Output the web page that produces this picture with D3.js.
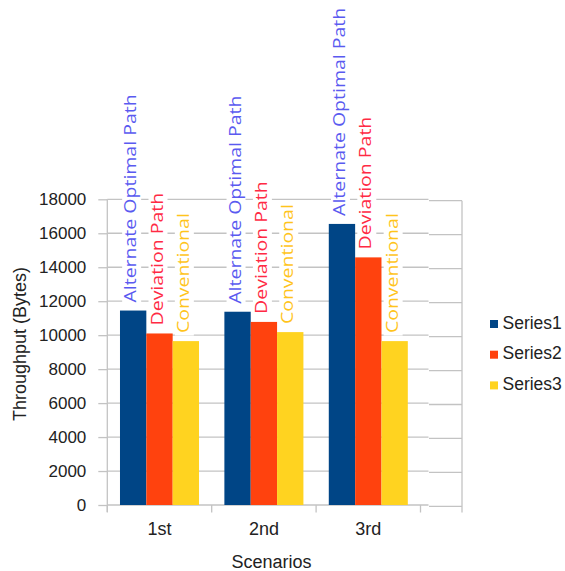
<!DOCTYPE html>
<html>
<head>
<meta charset="utf-8">
<script src="https://cdn.jsdelivr.net/npm/d3@7"></script>
<style>
  html, body { margin: 0; padding: 0; background: #fff; }
  svg { display: block; }
</style>
</head>
<body>
<svg id="chart" width="565" height="571"></svg>
<script>
// Throughput per scenario for the three routing strategies
const scenarios = ["1st", "2nd", "3rd"];
const seriesNames = ["Series1", "Series2", "Series3"];
const pathLabels = ["Alternate Optimal Path", "Deviation Path", "Conventional"];
const series1 = [11450, 11380, 16550];
const series2 = [10100, 10780, 14580];
const series3 = [9650, 10180, 9650];
const yTicks = [0, 2000, 4000, 6000, 8000, 10000, 12000, 14000, 16000, 18000];

const barColors = ["#004586", "#ff420e", "#ffd320"];
const labelColors = ["#5a5af0", "#ff2a44", "#ffc41c"];
const gridColor = "#c3c3c3";
const textColor = "#222";
const axisFont = "'Liberation Sans', Arial, sans-serif";
const labelFont = "'Open Sans', 'Noto Sans', sans-serif";

const values = [series1, series2, series3];

const svg = d3.select("#chart");

const plotLeft = 107.3, plotRight = 420.5, frameRight = 462;
const plotTop = 199.3, plotBottom = 505;

const x = d3.scaleBand().domain(scenarios).range([plotLeft, plotRight])
  .paddingInner(0.243).paddingOuter(0.1215);
const xs = d3.scaleBand().domain(d3.range(seriesNames.length)).range([0, x.bandwidth()]);
const y = d3.scaleLinear().domain([0, 18000]).range([plotBottom, plotTop]);

// horizontal grid (the right pane sits a hair lower)
const grid = svg.append("g").attr("stroke", gridColor).attr("stroke-width", 1.3);
grid.selectAll("line.g1").data(yTicks).join("line").attr("class", "g1")
  .attr("x1", plotLeft).attr("x2", 428.5)
  .attr("y1", d => y(d)).attr("y2", d => y(d));
grid.selectAll("line.g2").data(yTicks).join("line").attr("class", "g2")
  .attr("x1", 429).attr("x2", frameRight)
  .attr("y1", d => y(d) + 1.4).attr("y2", d => y(d) + 1.4);
// right frame edge
grid.append("line").attr("x1", frameRight).attr("x2", frameRight)
  .attr("y1", plotTop + 1.4).attr("y2", plotBottom + 7.5);

// y axis
const yAxis = d3.axisLeft(y).tickValues(yTicks).tickSize(9).tickPadding(12)
  .tickFormat(d3.format("d"));
const gy = svg.append("g").attr("transform", `translate(${plotLeft},0)`).call(yAxis);
gy.select(".domain").remove();
gy.selectAll(".tick line").attr("stroke", gridColor).attr("stroke-width", 1.3);
gy.selectAll(".tick text").attr("fill", textColor)
  .attr("font-family", axisFont).attr("font-size", 17).attr("dy", "0.3em");
gy.append("line").attr("stroke", gridColor).attr("stroke-width", 1.3)
  .attr("x1", 0).attr("x2", 0).attr("y1", plotTop).attr("y2", plotBottom + 7);

// x axis
const xAxis = d3.axisBottom(x).tickSize(0).tickPadding(17);
const gx = svg.append("g").attr("transform", `translate(0,${plotBottom})`).call(xAxis);
gx.select(".domain").remove();
gx.selectAll(".tick text").attr("fill", textColor)
  .attr("font-family", axisFont).attr("font-size", 18);
const bounds = scenarios.map(c => x(c) - x.step() * x.paddingInner() / 2).concat([plotRight]);
gx.selectAll("line.sep").data(bounds).join("line").attr("class", "sep")
  .attr("stroke", gridColor).attr("stroke-width", 1.3)
  .attr("x1", d => d).attr("x2", d => d).attr("y1", 0).attr("y2", 7.5);

// bars
const groups = svg.append("g").selectAll("g").data(scenarios).join("g")
  .attr("transform", c => `translate(${x(c)},0)`);
groups.selectAll("rect").data((c, i) => values.map((v, s) => ({ s, v: v[i] }))).join("rect")
  .attr("x", d => xs(d.s)).attr("width", xs.bandwidth())
  .attr("y", d => y(d.v)).attr("height", d => plotBottom - y(d.v))
  .attr("fill", d => barColors[d.s]);

// rotated path labels above each bar
const stretch = 1.22;
groups.each(function (c, i) {
  const g = d3.select(this);
  values.forEach((v, s) => {
    const lg = g.append("g").attr("transform",
      `translate(${xs(s) + xs.bandwidth() / 2 + 3},${y(v[i]) - 8}) rotate(-90) scale(${stretch},1)`);
    const bg = lg.append("rect").attr("fill", "#fff");
    const t = lg.append("text").text(pathLabels[s])
      .attr("font-family", labelFont).attr("font-size", 16)
      .attr("fill", labelColors[s]);
    const len = t.node().getComputedTextLength();
    bg.attr("x", -2).attr("y", -14).attr("width", len + 4).attr("height", 19);
  });
});

// axis titles
svg.append("text").text("Throughput (Bytes)")
  .attr("transform", "translate(26,344) rotate(-90)")
  .attr("text-anchor", "middle").attr("font-family", axisFont)
  .attr("font-size", 18).attr("fill", textColor);
svg.append("text").text("Scenarios")
  .attr("x", 271.5).attr("y", 568).attr("text-anchor", "middle")
  .attr("font-family", axisFont).attr("font-size", 18).attr("fill", textColor);

// legend
const legend = svg.append("g").attr("transform", "translate(490,324)");
const item = legend.selectAll("g").data(seriesNames).join("g")
  .attr("transform", (d, i) => `translate(0,${i * 30.7})`);
item.append("rect").attr("x", 0).attr("y", -4).attr("width", 8).attr("height", 8)
  .attr("fill", (d, i) => barColors[i]);
item.append("text").text(d => d).attr("x", 12.5).attr("y", 4.5)
  .attr("font-family", axisFont).attr("font-size", 17.5).attr("fill", textColor);
</script>
</body>
</html>
